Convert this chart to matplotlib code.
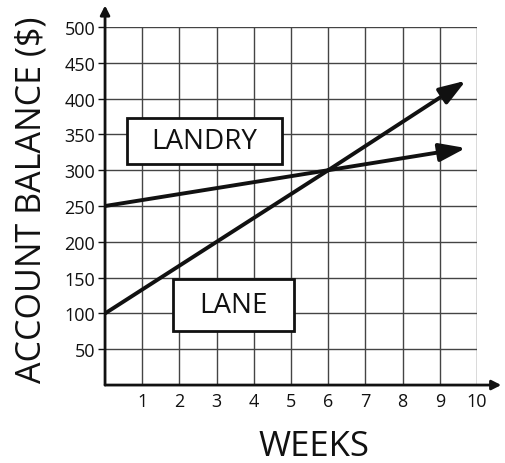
import numpy as np
import matplotlib
matplotlib.use("Agg")
import matplotlib.pyplot as plt
from matplotlib.patches import Rectangle

# ---- data ----
WEEKS = [0, 6, 9.7]
LANDRY = [250, 300, 331]
LANE = [100, 300, 425]
XTICKS = list(range(1, 11))
YTICKS = list(range(50, 501, 50))

# label boxes: (text, x0, x1, y0, y1) in data units
LABELS = [("LANDRY", 0.59, 4.76, 309, 373),
          ("LANE", 1.83, 5.08, 75, 148)]

INK = "#111111"
GRID = "#444444"
FONT = "Open Sans"

fig = plt.figure(figsize=(5.05, 4.64), dpi=100)
ax = fig.add_axes([0.208, 0.168, 0.9446 - 0.208, 0.9397 - 0.168])
ax.set_xlim(0, 10)
ax.set_ylim(0, 500)

# grid
for x in XTICKS:
    ax.plot([x, x], [0, 500], color=GRID, lw=1.0, zorder=1)
for y in YTICKS:
    ax.plot([0, 10], [y, y], color=GRID, lw=1.0, zorder=1)

for s in ax.spines.values():
    s.set_visible(False)

# axes with arrow heads
for tip in [(0, 530), (10.65, 0)]:
    ax.annotate("", xy=tip, xytext=(0, 0), annotation_clip=False,
                arrowprops=dict(arrowstyle="-|>,head_length=0.55,head_width=0.28",
                                color=INK, lw=2, shrinkA=0, shrinkB=0))

# lines with arrow heads
for ys in (LANDRY, LANE):
    ax.plot(WEEKS[:-1], ys[:-1], color=INK, lw=2.8, zorder=3,
            solid_capstyle="butt")
    ax.annotate("", xy=(WEEKS[-1], ys[-1]), xytext=(WEEKS[-2], ys[-2]),
                arrowprops=dict(arrowstyle="-|>,head_length=1.6,head_width=0.55",
                                color=INK, lw=2.8, shrinkA=0, shrinkB=0),
                zorder=3)

# labels in boxes
for text, x0, x1, y0, y1 in LABELS:
    ax.add_patch(Rectangle((x0, y0), x1 - x0, y1 - y0, fc="white", ec=INK,
                           lw=2.0, zorder=5))
    ax.text((x0 + x1) / 2, (y0 + y1) / 2, text, ha="center", va="center",
            fontsize=20, family=FONT, color=INK, zorder=6)

ax.set_xticks(XTICKS)
ax.set_xticklabels([str(x) for x in XTICKS], family=FONT, fontsize=13)
ax.set_yticks(YTICKS)
ax.set_yticklabels([str(y) for y in YTICKS], family=FONT, fontsize=13)
ax.tick_params(axis="x", length=0, pad=5, colors=INK)
ax.tick_params(axis="y", length=5, width=1, pad=2, colors=INK)

fig.text(0.062, 0.569, "ACCOUNT BALANCE ($)", rotation=90, ha="center",
         va="center", fontsize=24.5, family=FONT, color=INK)
fig.text(0.621, 0.036, "WEEKS", ha="center", va="center", fontsize=25,
         family=FONT, color=INK)

fig.savefig("out.png", dpi=100)
